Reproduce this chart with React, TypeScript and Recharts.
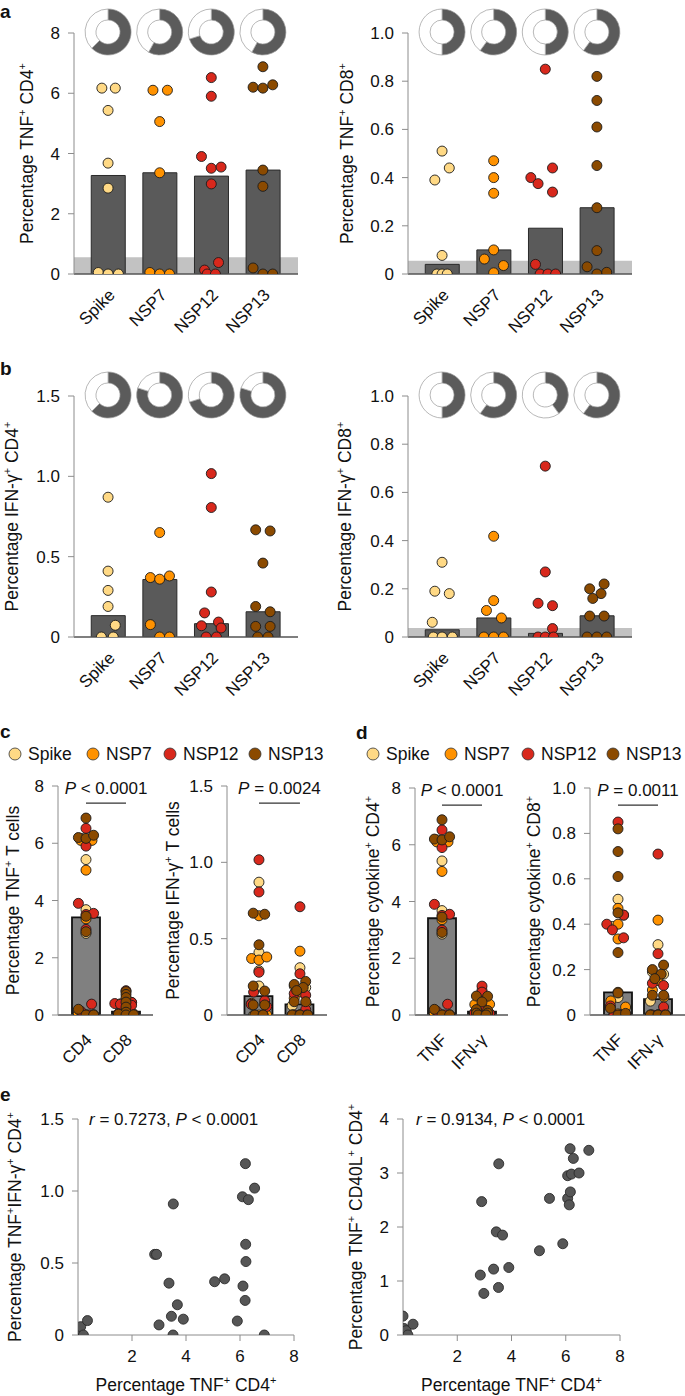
import React from "react";
import {
  ComposedChart,
  Bar,
  Scatter,
  ScatterChart,
  XAxis,
  YAxis,
  ReferenceArea,
  ReferenceLine,
  PieChart,
  Pie,
  Cell,
} from "recharts";

const FONT = '"Liberation Sans", Arial, Helvetica, sans-serif';
const INK = "#111";

const antigens = ["Spike", "NSP7", "NSP12", "NSP13"];
const antigenColors = ["#FFD985", "#FF9200", "#D8281C", "#8B4A00"];

// rows: Spike, NSP7, NSP12, NSP13 ; jitter is the beeswarm offset in category units
const tnfCd4Values = [
  [6.17, 6.17, 5.43, 3.68, 2.85, 0.05, 0, 0],
  [6.1, 6.1, 5.06, 3.36, 0.05, 0, 0],
  [6.52, 5.9, 3.9, 3.51, 3.55, 2.99, 0.38, 0.13, 0, 0],
  [6.88, 6.2, 6.17, 6.28, 3.45, 2.91, 0.2, 0, 0],
];
const tnfCd4Jitter = [
  [-0.12, 0.14, 0, 0, 0, -0.19, 0, 0.2],
  [-0.13, 0.15, 0, 0, -0.19, 0, 0.19],
  [0, 0, -0.19, 0, 0.19, 0, 0.14, -0.13, -0.08, 0.08],
  [0, -0.19, 0, 0.19, 0, 0, -0.19, 0, 0.19],
];
const tnfCd4Bars = [3.27, 3.36, 3.25, 3.45];
const tnfCd4Responders = [0.625, 0.58, 0.7, 0.58];
const tnfCd4Background = 0.56;

const tnfCd8Values = [
  [0.51, 0.44, 0.39, 0.077, 0, 0, 0],
  [0.47, 0.4, 0.335, 0.1, 0.062, 0.035, 0.005],
  [0.85, 0.44, 0.4, 0.375, 0.34, 0.04, 0, 0, 0],
  [0.82, 0.72, 0.61, 0.45, 0.275, 0.097, 0.03, 0, 0.007],
];
const tnfCd8Jitter = [
  [0, 0.14, -0.14, 0, -0.1, 0, 0.1],
  [0, 0, 0, 0, -0.18, 0.19, 0],
  [0, 0.14, -0.28, -0.14, 0.14, -0.19, -0.1, 0.05, 0.2],
  [0, 0, 0, 0, 0, 0, -0.19, 0, 0.19],
];
const tnfCd8Bars = [0.04, 0.1, 0.19, 0.275];
const tnfCd8Responders = [0.5, 0.6, 0.5, 0.6];
const tnfCd8Background = 0.055;

const ifnCd4Values = [
  [0.87, 0.41, 0.29, 0.19, 0.073, 0, 0],
  [0.65, 0.37, 0.36, 0.38, 0.077, 0, 0],
  [1.017, 0.806, 0.28, 0.15, 0.07, 0.093, 0.056, 0, 0],
  [0.667, 0.66, 0.46, 0.19, 0.157, 0.066, 0.066, 0, 0],
];
const ifnCd4Jitter = [
  [0, 0, 0, 0, 0.14, -0.13, 0.1],
  [0, -0.18, 0, 0.19, -0.18, 0, 0.19],
  [0, 0, 0, -0.13, -0.19, 0.14, 0.19, -0.1, 0.1],
  [-0.14, 0.14, 0, -0.14, 0.14, -0.14, 0.14, -0.1, 0.1],
];
const ifnCd4Bars = [0.133, 0.358, 0.083, 0.157];
const ifnCd4Responders = [0.625, 0.8, 0.7, 0.8];

const ifnCd8Values = [
  [0.31, 0.19, 0.18, 0.061, 0, 0, 0],
  [0.418, 0.151, 0.11, 0.079, 0, 0, 0],
  [0.709, 0.27, 0.14, 0.13, 0.035, 0, 0, 0],
  [0.22, 0.2, 0.18, 0.16, 0.087, 0.087, 0, 0, 0],
];
const ifnCd8Jitter = [
  [0, -0.14, 0.14, -0.19, -0.17, 0, 0.2],
  [0, 0, -0.14, 0.15, -0.19, 0, 0.19],
  [0, 0, -0.14, 0.14, 0.14, -0.14, 0, 0.16],
  [0.14, -0.14, 0.08, -0.08, -0.14, 0.14, -0.19, 0, 0.19],
];
const ifnCd8Bars = [0.03, 0.079, 0.015, 0.088];
const ifnCd8Responders = [0.5, 0.6, 0.4, 0.6];
const ifnCd8Background = 0.037;

// pooled panels c and d
const tnfByCellBars = [3.41, 0.12];
const ifnByCellBars = [0.124, 0.07];
const cd4ByCytokineBars = [3.41, 0.12];
const cd8ByCytokineBars = [0.1, 0.07];

// panel e
const corrTnfX = [0, 0.1, 0.2, 0.35, 2.84, 2.91, 3.0, 3.37, 3.46, 3.52, 3.53, 3.68, 3.9, 5.06, 5.43, 5.9, 6.09, 6.11, 6.19, 6.2, 6.21, 6.22, 6.31, 6.54, 6.9];
const corrIfnY = [0, 0.058, 0, 0.1, 0.56, 0.56, 0.07, 0.36, 0.13, 0, 0.91, 0.21, 0.11, 0.37, 0.39, 0.097, 0.96, 0.34, 0.24, 1.19, 0.63, 0.51, 0.94, 1.02, 0];
const cd40TnfX = [0, 0, 0.04, 0.12, 0.18, 0.37, 2.85, 2.9, 2.98, 3.34, 3.44, 3.52, 3.53, 3.67, 3.9, 5.03, 5.4, 5.89, 6.07, 6.07, 6.13, 6.17, 6.16, 6.21, 6.28, 6.49, 6.85];
const cd40Y = [0.35, 0, 0.12, 0.08, 0, 0.2, 1.11, 2.47, 0.77, 1.22, 1.91, 0.88, 3.17, 1.85, 1.25, 1.56, 2.53, 1.69, 2.95, 2.53, 2.41, 2.65, 3.45, 2.98, 3.27, 3.0, 3.42];

type Layout = { cl: number; ct: number; cr: number; cb: number; x0: number; y0: number; x1: number; y1: number };
type Group = { cat: number; antigen: number; values: number[]; jitter: number[] };

const perAntigen = (values: number[][], jitter: number[][]): Group[] =>
  values.map((v, k) => ({ cat: k, antigen: k, values: v, jitter: jitter[k] }));
const pooled = (cat: number, values: number[][], jitter: number[][]): Group[] =>
  values.map((v, k) => ({ cat, antigen: k, values: v, jitter: jitter[k] }));

const yFmt = (dec: number) => (v: number) => (v === 0 ? "0" : v.toFixed(dec));

function rich(text: string, supSize = 11) {
  const parts = text.split(/(\^\+|~\w)/).filter((p) => p !== "");
  let raised = false;
  return parts.map((p, i) => {
    if (p === "^+") {
      raised = true;
      return (
        <tspan key={i} dy={-7} fontSize={supSize}>
          +
        </tspan>
      );
    }
    const dy = raised ? 7 : 0;
    raised = false;
    if (p.startsWith("~"))
      return (
        <tspan key={i} dy={dy} fontStyle="italic">
          {p.slice(1)}
        </tspan>
      );
    return (
      <tspan key={i} dy={dy}>
        {p}
      </tspan>
    );
  });
}

function AxisTitle({ x, y, text, rotate }: { x: number; y: number; text: string; rotate?: boolean }) {
  return (
    <text
      x={x}
      y={y}
      textAnchor="middle"
      fontSize={17.5}
      fill={INK}
      transform={rotate ? `rotate(-90, ${x}, ${y})` : undefined}
    >
      {rich(text)}
    </text>
  );
}

function CatTick({ x, y, payload, names, dx, dy }: any) {
  const ax = x + dx;
  const ay = y + dy;
  return (
    <text x={ax} y={ay} transform={`rotate(-45, ${ax}, ${ay})`} textAnchor="end" fontSize={17} fill={INK}>
      {names[Math.round(payload.value)]}
    </text>
  );
}

const dot = (fill: string, stroke: string) => (p: any) =>
  <circle cx={p.cx} cy={p.cy} r={5} fill={fill} stroke={stroke} strokeWidth={0.9} />;

interface CatProps {
  L: Layout;
  xDomain: [number, number];
  yMax: number;
  yTicks: number[];
  dec: number;
  names: string[];
  bars: number[];
  barSize: number;
  pooledStyle?: boolean;
  groups: Group[];
  background?: number;
  yLabel: string;
  yLabelX: number;
  tickDx: number;
  tickDy: number;
  pText?: string;
}

function CategoryPanel(props: CatProps) {
  const { L, xDomain, yMax, yTicks, dec, names, bars, barSize, pooledStyle, groups, background, yLabel, yLabelX, tickDx, tickDy, pText } = props;
  const barData = bars.map((v, i) => ({ x: i, v }));
  const pointSets = antigenColors.map((_, k) =>
    groups
      .filter((g) => g.antigen === k)
      .flatMap((g) => g.values.map((v, j) => ({ x: g.cat + g.jitter[j], v })))
  );
  const pY = yMax * 0.925;
  return (
    <div style={{ position: "absolute", left: L.cl, top: L.ct }}>
      <ComposedChart
        width={L.cr - L.cl}
        height={L.cb - L.ct}
        data={barData}
        margin={{ top: L.y0 - L.ct, right: L.cr - L.x1, bottom: 0, left: 0 }}
      >
        <XAxis
          type="number"
          dataKey="x"
          domain={xDomain}
          ticks={names.map((_, i) => i)}
          interval={0}
          allowDataOverflow
          height={L.cb - L.y1}
          tickSize={0}
          tickMargin={0}
          tickLine={false}
          axisLine={{ stroke: "#555", strokeWidth: 1.4 }}
          tick={(p: any) => <CatTick {...p} names={names} dx={tickDx} dy={tickDy} />}
        />
        <XAxis xAxisId="pts" type="number" dataKey="x" domain={xDomain} allowDataOverflow hide />
        <YAxis
          type="number"
          domain={[0, yMax]}
          ticks={yTicks}
          interval={0}
          allowDataOverflow
          width={L.x0 - L.cl}
          tickFormatter={yFmt(dec)}
          tickSize={6}
          tickMargin={8}
          axisLine={{ stroke: "#8c8c8c" }}
          tickLine={{ stroke: "#8c8c8c" }}
          tick={{ fontSize: 17, fill: INK }}
          label={{
            content: () => (
              <AxisTitle x={yLabelX - L.cl} y={(L.y0 + L.y1) / 2 - L.ct} text={yLabel} rotate />
            ),
          }}
        />
        {background !== undefined && (
          <ReferenceArea y1={0} y2={background} fill="#c2c2c2" fillOpacity={1} stroke="none" />
        )}
        <Bar
          dataKey="v"
          barSize={barSize}
          fill={pooledStyle ? "#808080" : "#5a5a5a"}
          stroke={pooledStyle ? "#111" : "#2a2a2a"}
          strokeWidth={pooledStyle ? 1.8 : 1}
          isAnimationActive={false}
        />
        {pointSets.map((pts, k) =>
          pts.length ? (
            <Scatter
              key={k}
              xAxisId="pts"
              data={pts}
              dataKey="v"
              isAnimationActive={false}
              shape={dot(antigenColors[k], "#1b1b1b")}
            />
          ) : null
        )}
        {pText && (
          <ReferenceLine
            segment={[
              { x: 0, y: pY },
              { x: 1, y: pY },
            ]}
            stroke="#333"
            strokeWidth={1.2}
            label={{
              content: (p: any) => {
                const vb = p.viewBox || {};
                return (
                  <text x={vb.x + vb.width / 2} y={vb.y - 9} textAnchor="middle" fontSize={17} fill={INK}>
                    {rich(pText)}
                  </text>
                );
              },
            }}
          />
        )}
      </ComposedChart>
    </div>
  );
}

function Donuts({ L, xDomain, fractions }: { L: Layout; xDomain: [number, number]; fractions: number[] }) {
  const w = L.x1 - L.x0;
  const sx = (v: number) => ((v - xDomain[0]) / (xDomain[1] - xDomain[0])) * w;
  return (
    <div style={{ position: "absolute", left: L.x0, top: L.y0 - 26 }}>
      <PieChart width={w} height={50} margin={{ top: 0, right: 0, bottom: 0, left: 0 }}>
        {fractions.map((f, i) => (
          <Pie
            key={i}
            data={[
              { name: "responders", value: f },
              { name: "others", value: 1 - f },
            ]}
            dataKey="value"
            cx={sx(i)}
            cy={25}
            innerRadius={12}
            outerRadius={23}
            startAngle={90}
            endAngle={-270}
            stroke="#9a9a9a"
            strokeWidth={0.7}
            isAnimationActive={false}
          >
            <Cell fill="#5b5b5b" />
            <Cell fill="#ffffff" />
          </Pie>
        ))}
      </PieChart>
    </div>
  );
}

function CorrPanel({
  L, xs, ys, yMax, yTicks, dec, yLabel, yLabelX,
}: { L: Layout; xs: number[]; ys: number[]; yMax: number; yTicks: number[]; dec: number; yLabel: string; yLabelX: number }) {
  const pts = xs.map((x, i) => ({ x, y: ys[i] }));
  return (
    <div style={{ position: "absolute", left: L.cl, top: L.ct }}>
      <ScatterChart
        width={L.cr - L.cl}
        height={L.cb - L.ct}
        margin={{ top: L.y0 - L.ct, right: L.cr - L.x1, bottom: 0, left: 0 }}
      >
        <XAxis
          type="number"
          dataKey="x"
          domain={[0, 8]}
          ticks={[2, 4, 6, 8]}
          interval={0}
          allowDataOverflow
          height={L.cb - L.y1}
          tickSize={6}
          tickMargin={9}
          axisLine={{ stroke: "#8c8c8c" }}
          tickLine={{ stroke: "#8c8c8c" }}
          tick={{ fontSize: 17, fill: INK }}
          label={{
            content: () => (
              <AxisTitle x={(L.x0 + L.x1) / 2 - L.cl} y={1391 - L.ct} text="Percentage TNF^+ CD4^+" />
            ),
          }}
        />
        <YAxis
          type="number"
          dataKey="y"
          domain={[0, yMax]}
          ticks={yTicks}
          interval={0}
          allowDataOverflow
          width={L.x0 - L.cl}
          tickFormatter={yFmt(dec)}
          tickSize={6}
          tickMargin={8}
          axisLine={{ stroke: "#8c8c8c" }}
          tickLine={{ stroke: "#8c8c8c" }}
          tick={{ fontSize: 17, fill: INK }}
          label={{
            content: () => (
              <AxisTitle x={yLabelX - L.cl} y={(L.y0 + L.y1) / 2 - L.ct} text={yLabel} rotate />
            ),
          }}
        />
        <Scatter data={pts} isAnimationActive={false} shape={dot("#565656", "#2b2b2b")} />
      </ScatterChart>
    </div>
  );
}

const colA = { x0: 74, x1: 298 };
const colB = { x0: 408, x1: 632 };
const catDomain: [number, number] = [-0.66, 3.68];

const aLeft: Layout = { cl: 0, ct: 0, cr: 340, cb: 345, ...colA, y0: 33, y1: 274 };
const aRight: Layout = { cl: 325, ct: 0, cr: 685, cb: 345, ...colB, y0: 33, y1: 274 };
const bLeft: Layout = { cl: 0, ct: 345, cr: 340, cb: 710, ...colA, y0: 396, y1: 637 };
const bRight: Layout = { cl: 325, ct: 345, cr: 685, cb: 710, ...colB, y0: 396, y1: 637 };
const cLeft: Layout = { cl: 0, ct: 765, cr: 165, cb: 1085, x0: 58, x1: 153, y0: 786, y1: 1015 };
const cRight: Layout = { cl: 160, ct: 765, cr: 340, cb: 1085, x0: 227, x1: 327, y0: 786, y1: 1015 };
const dLeft: Layout = { cl: 345, ct: 765, cr: 510, cb: 1085, x0: 415, x1: 508, y0: 788, y1: 1015 };
const dRight: Layout = { cl: 510, ct: 765, cr: 685, cb: 1085, x0: 590, x1: 685, y0: 788, y1: 1015 };
const eLeft: Layout = { cl: 0, ct: 1100, cr: 340, cb: 1396, x0: 78, x1: 294, y0: 1119, y1: 1335 };
const eRight: Layout = { cl: 335, ct: 1100, cr: 685, cb: 1396, x0: 403, x1: 620, y0: 1119, y1: 1335 };

function LegendRow({ dx }: { dx: number }) {
  const cxs = [15, 93, 170, 255];
  return (
    <g>
      {antigens.map((a, k) => (
        <g key={a}>
          <circle cx={dx + cxs[k]} cy={754} r={6} fill={antigenColors[k]} stroke="#333" strokeWidth={0.8} />
          <text x={dx + cxs[k] + 13} y={760} fontSize={17.5} fill={INK}>
            {a}
          </text>
        </g>
      ))}
    </g>
  );
}

export default function App() {
  return (
    <div
      style={{
        position: "absolute",
        left: 0,
        top: 0,
        width: 685,
        height: 1396,
        overflow: "hidden",
        background: "#fff",
        fontFamily: FONT,
      }}
    >
      <CategoryPanel
        L={aLeft} xDomain={catDomain} yMax={8} yTicks={[0, 2, 4, 6, 8]} dec={0}
        names={antigens} bars={tnfCd4Bars} barSize={34}
        groups={perAntigen(tnfCd4Values, tnfCd4Jitter)} background={tnfCd4Background}
        yLabel="Percentage TNF^+ CD4^+" yLabelX={33} tickDx={8} tickDy={22}
      />
      <Donuts L={aLeft} xDomain={catDomain} fractions={tnfCd4Responders} />
      <CategoryPanel
        L={aRight} xDomain={catDomain} yMax={1} yTicks={[0, 0.2, 0.4, 0.6, 0.8, 1]} dec={1}
        names={antigens} bars={tnfCd8Bars} barSize={34}
        groups={perAntigen(tnfCd8Values, tnfCd8Jitter)} background={tnfCd8Background}
        yLabel="Percentage TNF^+ CD8^+" yLabelX={353} tickDx={8} tickDy={22}
      />
      <Donuts L={aRight} xDomain={catDomain} fractions={tnfCd8Responders} />
      <CategoryPanel
        L={bLeft} xDomain={catDomain} yMax={1.5} yTicks={[0, 0.5, 1, 1.5]} dec={1}
        names={antigens} bars={ifnCd4Bars} barSize={34}
        groups={perAntigen(ifnCd4Values, ifnCd4Jitter)}
        yLabel="Percentage IFN-γ^+ CD4^+" yLabelX={18} tickDx={8} tickDy={22}
      />
      <Donuts L={bLeft} xDomain={catDomain} fractions={ifnCd4Responders} />
      <CategoryPanel
        L={bRight} xDomain={catDomain} yMax={1} yTicks={[0, 0.2, 0.4, 0.6, 0.8, 1]} dec={1}
        names={antigens} bars={ifnCd8Bars} barSize={34}
        groups={perAntigen(ifnCd8Values, ifnCd8Jitter)} background={ifnCd8Background}
        yLabel="Percentage IFN-γ^+ CD8^+" yLabelX={351} tickDx={8} tickDy={22}
      />
      <Donuts L={bRight} xDomain={catDomain} fractions={ifnCd8Responders} />

      <CategoryPanel
        L={cLeft} xDomain={[-0.7, 1.675]} yMax={8} yTicks={[0, 2, 4, 6, 8]} dec={0}
        names={["CD4", "CD8"]} bars={tnfByCellBars} barSize={28} pooledStyle
        groups={[...pooled(0, tnfCd4Values, tnfCd4Jitter), ...pooled(1, tnfCd8Values, tnfCd8Jitter)]}
        yLabel="Percentage TNF^+ T cells" yLabelX={19} tickDx={7} tickDy={26} pText="~P < 0.0001"
      />
      <CategoryPanel
        L={cRight} xDomain={[-0.78, 1.66]} yMax={1.5} yTicks={[0, 0.5, 1, 1.5]} dec={1}
        names={["CD4", "CD8"]} bars={ifnByCellBars} barSize={28} pooledStyle
        groups={[...pooled(0, ifnCd4Values, ifnCd4Jitter), ...pooled(1, ifnCd8Values, ifnCd8Jitter)]}
        yLabel="Percentage IFN-γ^+ T cells" yLabelX={179} tickDx={7} tickDy={26} pText="~P = 0.0024"
      />
      <CategoryPanel
        L={dLeft} xDomain={[-0.675, 1.65]} yMax={8} yTicks={[0, 2, 4, 6, 8]} dec={0}
        names={["TNF", "IFN-γ"]} bars={cd4ByCytokineBars} barSize={28} pooledStyle
        groups={[...pooled(0, tnfCd4Values, tnfCd4Jitter), ...pooled(1, ifnCd4Values, ifnCd4Jitter)]}
        yLabel="Percentage cytokine^+ CD4^+" yLabelX={379} tickDx={6} tickDy={26} pText="~P < 0.0001"
      />
      <CategoryPanel
        L={dRight} xDomain={[-0.7, 1.675]} yMax={1} yTicks={[0, 0.2, 0.4, 0.6, 0.8, 1]} dec={1}
        names={["TNF", "IFN-γ"]} bars={cd8ByCytokineBars} barSize={28} pooledStyle
        groups={[...pooled(0, tnfCd8Values, tnfCd8Jitter), ...pooled(1, ifnCd8Values, ifnCd8Jitter)]}
        yLabel="Percentage cytokine^+ CD8^+" yLabelX={540} tickDx={6} tickDy={26} pText="~P = 0.0011"
      />

      <CorrPanel
        L={eLeft} xs={corrTnfX} ys={corrIfnY} yMax={1.5} yTicks={[0, 0.5, 1, 1.5]} dec={1}
        yLabel="Percentage TNF^+IFN-γ^+ CD4^+" yLabelX={21}
      />
      <CorrPanel
        L={eRight} xs={cd40TnfX} ys={cd40Y} yMax={4} yTicks={[0, 1, 2, 3, 4]} dec={0}
        yLabel="Percentage TNF^+ CD40L^+ CD4^+" yLabelX={362}
      />

      <svg
        width={685}
        height={1396}
        style={{ position: "absolute", left: 0, top: 0, pointerEvents: "none" }}
      >
        <g fontWeight="bold" fontSize={19} fill={INK}>
          <text x={0} y={18}>a</text>
          <text x={0} y={375}>b</text>
          <text x={0} y={738}>c</text>
          <text x={356} y={739}>d</text>
          <text x={0} y={1101}>e</text>
        </g>
        <LegendRow dx={0} />
        <LegendRow dx={358} />
        <text x={89} y={1125} fontSize={17} fill={INK}>
          {rich("~r = 0.7273, ~P < 0.0001")}
        </text>
        <text x={416} y={1125} fontSize={17} fill={INK}>
          {rich("~r = 0.9134, ~P < 0.0001")}
        </text>
      </svg>
    </div>
  );
}
